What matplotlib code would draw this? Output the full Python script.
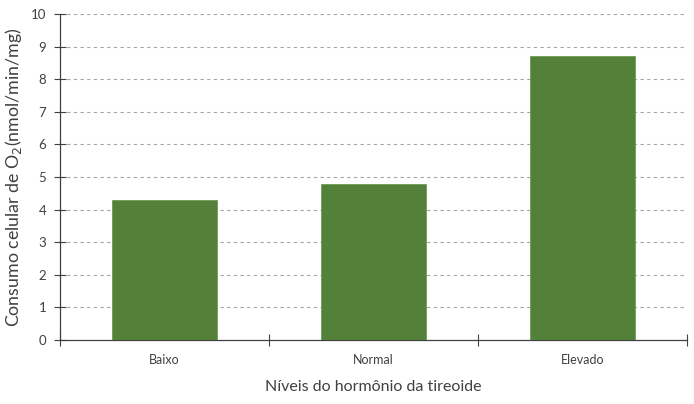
import matplotlib
matplotlib.use("Agg")
import matplotlib.pyplot as plt
import numpy as np

categories = ["Baixo", "Normal", "Elevado"]
values = [4.3, 4.8, 8.7]
yticks = list(range(0, 11))

plt.rcParams['font.family'] = ['Lato', 'DejaVu Sans']

fig = plt.figure(figsize=(6.94, 4.04), dpi=100)
ax = fig.add_axes([60/694, (404-340)/404, (687-60)/694, (340-14)/404])

x = np.arange(len(categories))
ax.bar(x, values, width=0.5, color='#538139', zorder=3,
       edgecolor='#6f9a58', linewidth=0.6)

ax.set_xlim(-0.5, len(categories) - 0.5)
ax.set_ylim(0, 10)
ax.set_yticks(yticks)
ax.set_yticklabels([str(t) for t in yticks], fontsize=9.5, color='#404040')
for t in yticks[1:]:
    ax.axhline(t, color='#a6a6a6', linestyle=(0, (3, 3)), linewidth=0.8, zorder=1)

ax.set_xticks(np.arange(len(categories) + 1) - 0.5, minor=False)
ax.set_xticklabels([])
ax.set_xticks(x, minor=True)
ax.set_xticklabels(categories, minor=True, fontsize=9, color='#404040')
ax.tick_params(axis='x', which='minor', length=0, pad=10)
ax.tick_params(axis='x', which='major', direction='inout', length=8, width=0.8, color='#404040')
ax.tick_params(axis='y', direction='inout', length=8, width=0.8, color='#404040', pad=6)

for s in ['top', 'right']:
    ax.spines[s].set_visible(False)
for s in ['left', 'bottom']:
    ax.spines[s].set_color('#404040')
    ax.spines[s].set_linewidth(0.9)

ax.set_ylabel("Consumo celular de O$_2$(nmol/min/mg)", fontsize=12.8, color='#404040', labelpad=5)
ax.set_xlabel("Níveis do hormônio da tireoide", fontsize=11.5, color='#404040', labelpad=10)

fig.savefig("out.png", dpi=100)
